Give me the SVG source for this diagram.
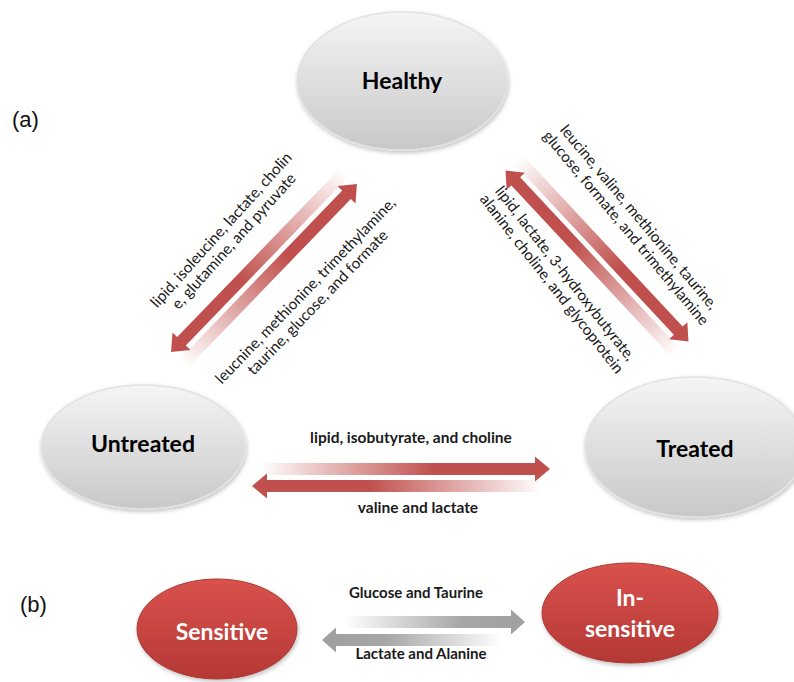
<svg xmlns="http://www.w3.org/2000/svg" width="794" height="682" viewBox="0 0 794 682">
<style>
.lbl{font-family:Lato,"Liberation Sans",sans-serif;fill:#1a1a1a}
.diag{font-size:15.3px}
.hz{font-size:15.5px;font-weight:bold}
.hb{font-size:15px;font-weight:bold}
.node{font-family:Lato,"Liberation Sans",sans-serif;font-weight:bold;font-size:23px;text-anchor:middle}
.gnode{fill:url(#gGray);stroke:#e2e2e2;stroke-width:1.5}
.rnode{fill:url(#gRedNode);stroke:#a93835;stroke-width:1}
.ra{fill:url(#gRedArrow)}
.ga{fill:url(#gGrayArrow)}
.panel{font-family:"Liberation Sans",Arial,sans-serif;font-size:22px;fill:#111}
</style>
<defs>
<linearGradient id="gGray" x1="0" y1="0" x2="0" y2="1"><stop offset="0" stop-color="#f5f5f5"/><stop offset="1" stop-color="#c8c8c8"/></linearGradient>
<linearGradient id="gRedNode" x1="0" y1="0" x2="0" y2="1"><stop offset="0" stop-color="#d9524d"/><stop offset="1" stop-color="#b53835"/></linearGradient>
<linearGradient id="gRedArrow" x1="0" y1="0" x2="1" y2="0"><stop offset="0" stop-color="#c0504d" stop-opacity="0"/><stop offset="0.6" stop-color="#c0504d" stop-opacity="1"/><stop offset="1" stop-color="#c0504d"/></linearGradient>
<linearGradient id="gGrayArrow" x1="0" y1="0" x2="1" y2="0"><stop offset="0" stop-color="#a6a6a6" stop-opacity="0"/><stop offset="0.65" stop-color="#a6a6a6" stop-opacity="1"/><stop offset="1" stop-color="#a0a0a0"/></linearGradient>
<filter id="sh" x="-10%" y="-10%" width="130%" height="130%"><feDropShadow dx="1" dy="2" stdDeviation="2" flood-color="#000" flood-opacity="0.25"/></filter>
<path id="a250" d="M-125,-6 H110 V-12.5 L125,0 L110,12.5 V6 H-125 Z"/>
<path id="a290" d="M-145,-6 H130 V-12.5 L145,0 L130,12.5 V6 H-145 Z"/>
<path id="a180" d="M-90,-6 H76 V-12.5 L90,0 L76,12.5 V6 H-90 Z"/>
</defs>
<rect width="794" height="682" fill="#ffffff"/>

<text class="panel" x="12" y="127">(a)</text>
<text class="panel" x="20" y="612">(b)</text>

<g id="connectors">
  <g id="untreated-healthy" transform="translate(264,268) rotate(-46)">
    <use href="#a250" class="ra" transform="translate(0,8.5)"/>
    <use href="#a250" class="ra" transform="translate(0,-8.5) rotate(180)"/>
  </g>
  <g id="healthy-treated" transform="translate(597,256) rotate(47)">
    <use href="#a250" class="ra" transform="translate(0,-8.5)"/>
    <use href="#a250" class="ra" transform="translate(0,8.5) rotate(180)"/>
  </g>
  <g id="untreated-treated">
    <use href="#a290" class="ra" transform="translate(405,469)"/>
    <use href="#a290" class="ra" transform="translate(397,486) rotate(180)"/>
  </g>
  <g id="sensitive-insensitive">
    <use href="#a180" class="ga" transform="translate(435,622)"/>
    <use href="#a180" class="ga" transform="translate(412,640) rotate(180)"/>
  </g>
</g>

<g id="labels">
  <g transform="translate(228,236) rotate(-48)">
    <text class="lbl diag" text-anchor="middle" y="-4">lipid, isoleucine, lactate, cholin</text>
    <text class="lbl diag" text-anchor="middle" y="13">e, glutamine, and pyruvate</text>
  </g>
  <g transform="translate(312,297) rotate(-46)">
    <text class="lbl diag" text-anchor="middle" y="-4">leucnine, methionine, trimethylamine,</text>
    <text class="lbl diag" text-anchor="middle" y="13">taurine, glucose, and formate</text>
  </g>
  <g transform="translate(632,223) rotate(50)">
    <text class="lbl diag" text-anchor="middle" y="-4">leucine, valine, methionine, taurine,</text>
    <text class="lbl diag" text-anchor="middle" y="13">glucose, formate, and trimethylamine</text>
  </g>
  <g transform="translate(558,279) rotate(52)">
    <text class="lbl diag" text-anchor="middle" y="-4">lipid, lactate, 3-hydroxybutyrate,</text>
    <text class="lbl diag" text-anchor="middle" y="13">alanine, choline, and glycoprotein</text>
  </g>
  <text class="lbl hz" text-anchor="middle" x="411" y="443">lipid, isobutyrate, and choline</text>
  <text class="lbl hz" text-anchor="middle" x="418" y="513">valine and lactate</text>
  <text class="lbl hb" text-anchor="middle" x="416" y="598">Glucose and Taurine</text>
  <text class="lbl hb" text-anchor="middle" x="421" y="659">Lactate and Alanine</text>
</g>

<g id="healthy">
  <ellipse class="gnode" filter="url(#sh)" cx="402" cy="81" rx="105" ry="69"/>
  <text class="node" x="402" y="89" fill="#000">Healthy</text>
</g>
<g id="untreated">
  <ellipse class="gnode" filter="url(#sh)" cx="143" cy="447" rx="102" ry="62"/>
  <text class="node" x="143" y="452" fill="#000">Untreated</text>
</g>
<g id="treated">
  <ellipse class="gnode" filter="url(#sh)" cx="695" cy="447" rx="110" ry="70"/>
  <text class="node" x="695" y="457" fill="#000">Treated</text>
</g>
<g id="sensitive">
  <ellipse class="rnode" filter="url(#sh)" cx="217" cy="629" rx="80" ry="50"/>
  <text class="node" x="222" y="640" fill="#fff">Sensitive</text>
</g>
<g id="insensitive">
  <ellipse class="rnode" filter="url(#sh)" cx="630" cy="613" rx="88" ry="50"/>
  <text class="node" x="630" y="606" fill="#fff">In-</text>
  <text class="node" x="630" y="637" fill="#fff">sensitive</text>
</g>
</svg>
